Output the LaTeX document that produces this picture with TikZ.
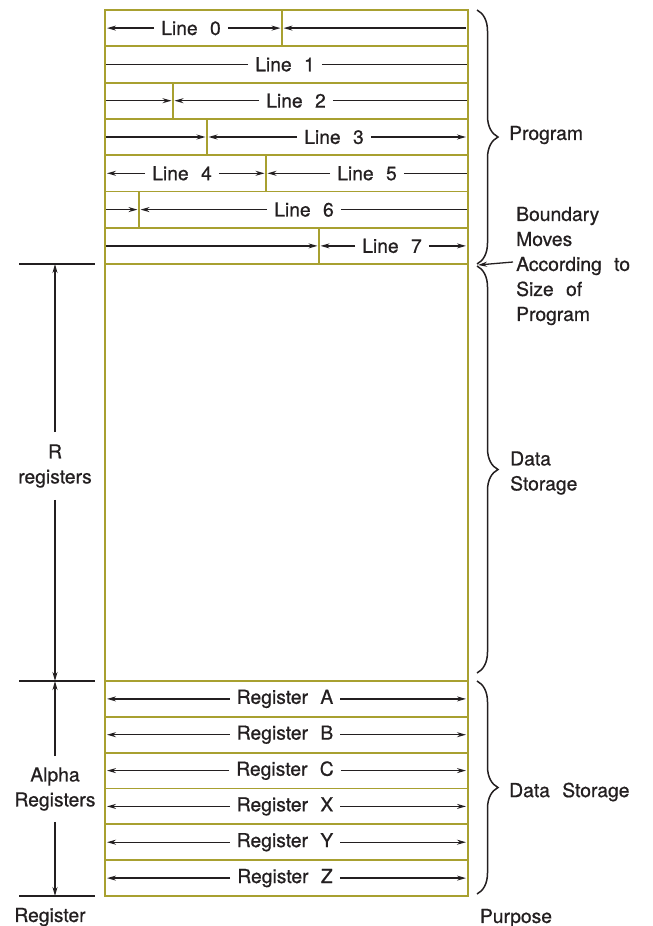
\documentclass[tikz,border=0pt]{standalone}
\usepackage{fontspec}
\setmainfont[WordSpace=2.3, FakeBold=0.7]{TeX Gyre Heros}
\usetikzlibrary{arrows.meta,decorations.pathreplacing}
\definecolor{cellline}{RGB}{168,160,48}
\definecolor{ink}{RGB}{35,31,32}

\begin{document}
\begin{tikzpicture}[x=1pt,y=-1pt,
  txt/.style={font=\fontsize{19.3}{25}\selectfont, text=ink, inner ysep=0pt, inner xsep=7pt},
  cellrule/.style={draw=cellline, line width=1.9pt},
  arr/.style={draw=ink, line width=1.3pt, -{Stealth[length=9pt,width=5pt]}},
  bare/.style={draw=ink, line width=1.3pt},
  bracket/.style={draw=ink, line width=1.5pt, decorate, decoration={brace, amplitude=21pt}},
  tick/.style={draw=ink, line width=1.5pt}]
\useasboundingbox (0,0) rectangle (653,926);

% ---- memory block outline and row rules ----
\draw[cellrule] (105,10) rectangle (468,896);
\foreach \y in {46.3,82.6,118.9,155.2,191.5,227.8,264.1,716.8,752.7,788.5,824.3,860.2}
  \draw[cellrule] (105,\y) -- (468,\y);
\draw[cellrule] (105,681) -- (468,681);
% split points between adjacent program lines
\draw[cellrule] (282,10) -- (282,46.3);
\draw[cellrule] (173,82.6) -- (173,118.9);
\draw[cellrule] (207,118.9) -- (207,155.2);
\draw[cellrule] (266,155.2) -- (266,191.5);
\draw[cellrule] (139,191.5) -- (139,227.8);
\draw[cellrule] (319,227.8) -- (319,264.1);

% ---- program lines ----
% Line 0
\node[txt] (l0) at (191,28.1) {Line 0};
\coordinate (l0a) at (107,28.1);
\coordinate (l0b) at (280.5,28.1);
\coordinate (l0c) at (283.5,28.1);
\coordinate (l0d) at (466,28.1);
\draw[arr] (l0.west) -- (l0a);
\draw[arr] (l0.east) -- (l0b);
\draw[arr] (l0d) -- (l0c);
% Line 1
\node[txt] (l1) at (285,64.4) {Line 1};
\coordinate (l1a) at (106,64.4);
\coordinate (l1d) at (467,64.4);
\draw[bare] (l1.west) -- (l1a);
\draw[bare] (l1.east) -- (l1d);
% Line 2
\node[txt] (l2) at (296,100.7) {Line 2};
\coordinate (l2a) at (106,100.7);
\coordinate (l2b) at (171.5,100.7);
\coordinate (l2c) at (174.5,100.7);
\coordinate (l2d) at (467,100.7);
\draw[arr] (l2a) -- (l2b);
\draw[arr] (l2.west) -- (l2c);
\draw[bare] (l2.east) -- (l2d);
% Line 3
\node[txt] (l3) at (334,137.0) {Line 3};
\coordinate (l3a) at (106,137.0);
\coordinate (l3b) at (205.5,137.0);
\coordinate (l3c) at (208.5,137.0);
\coordinate (l3d) at (466,137.0);
\draw[arr] (l3a) -- (l3b);
\draw[arr] (l3.west) -- (l3c);
\draw[arr] (l3.east) -- (l3d);
% Lines 4 and 5
\node[txt] (l4) at (182,173.3) {Line 4};
\node[txt] (l5) at (367,173.3) {Line 5};
\coordinate (l4a) at (107,173.3);
\coordinate (l4b) at (264.5,173.3);
\coordinate (l5c) at (267.5,173.3);
\coordinate (l5d) at (467,173.3);
\draw[arr] (l4.west) -- (l4a);
\draw[arr] (l4.east) -- (l4b);
\draw[arr] (l5.west) -- (l5c);
\draw[bare] (l5.east) -- (l5d);
% Line 6
\node[txt] (l6) at (304,209.6) {Line 6};
\coordinate (l6a) at (106,209.6);
\coordinate (l6b) at (137.5,209.6);
\coordinate (l6c) at (140.5,209.6);
\coordinate (l6d) at (467,209.6);
\draw[arr] (l6a) -- (l6b);
\draw[arr] (l6.west) -- (l6c);
\draw[bare] (l6.east) -- (l6d);
% Line 7
\node[txt] (l7) at (392,245.9) {Line 7};
\coordinate (l7a) at (106,245.9);
\coordinate (l7b) at (317.5,245.9);
\coordinate (l7c) at (320.5,245.9);
\coordinate (l7d) at (466,245.9);
\draw[arr] (l7a) -- (l7b);
\draw[arr] (l7.west) -- (l7c);
\draw[arr] (l7.east) -- (l7d);

% ---- alpha registers ----
\foreach \r/\y in {A/698.9,B/734.7,C/770.6,X/806.4,Y/842.2,Z/878.1}{
  \node[txt] (reg\r) at (285,\y) {Register \r};
  \coordinate (reg\r a) at (107,\y);
  \coordinate (reg\r d) at (466,\y);
  \draw[arr] (reg\r.west) -- (reg\r a);
  \draw[arr] (reg\r.east) -- (reg\r d);
}

% ---- register dimension marks on the left ----
\coordinate (tR) at (55,264);
\coordinate (tA) at (55,681);
\coordinate (tB) at (55,896);
\draw[tick] (19,264) -- (95,264);
\draw[tick] (19,681) -- (95,681);
\draw[tick] (19,896) -- (95,896);
\node[txt, align=center, inner ysep=12pt] (rregs) at (55,466) {R\\registers};
\node[txt, align=center, inner ysep=11pt] (aregs) at (55,789) {Alpha\\Registers};
\draw[arr] (rregs.north) -- (tR);
\draw[arr] (rregs.south) -- (tA);
\draw[arr] (aregs.north) -- (tA);
\draw[arr] (aregs.south) -- (tB);

% ---- purpose braces on the right ----
\draw[bracket] (477,10) -- (477,264);
\draw[bracket] (477,266) -- (477,673);
\draw[bracket] (477,681) -- (477,894);
\coordinate (jn) at (478,265);
\node[txt, anchor=west, inner xsep=0pt] (prog) at (509,135) {Program};
\node[txt, anchor=west, align=left, inner xsep=3pt] (bnd) at (513,266)
  {Boundary\\Moves\\According to\\Size of\\Program};
\draw[arr] ([yshift=4pt]bnd.west) -- (jn);
\node[txt, anchor=west, align=left, inner xsep=0pt] (ds1) at (510,473) {Data\\Storage};
\node[txt, anchor=west, inner xsep=0pt] (ds2) at (509,792) {Data Storage};

% ---- column headings ----
\node[txt] (hreg) at (50,917) {Register};
\node[txt] (hpur) at (516,918) {Purpose};
\end{tikzpicture}
\end{document}
